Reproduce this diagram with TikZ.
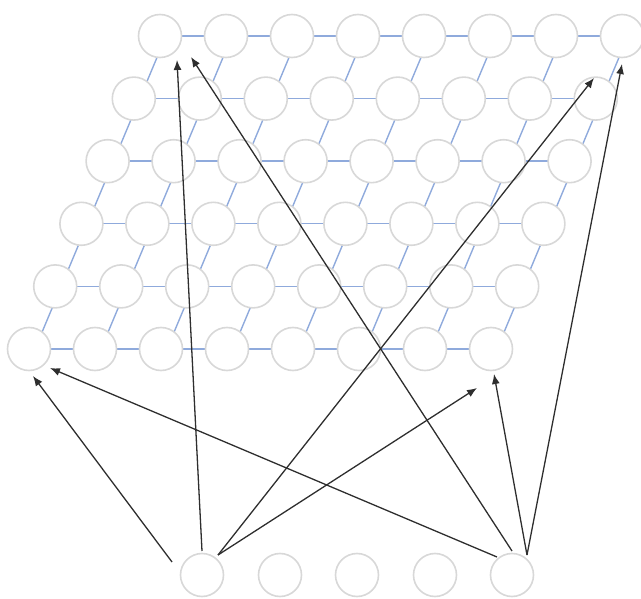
\documentclass[tikz,border=0pt]{standalone}
\usetikzlibrary{arrows.meta,calc,backgrounds}
\definecolor{lat}{HTML}{8FAADC}
\definecolor{ring}{HTML}{D8D8D8}
\definecolor{arrcol}{HTML}{2E2E2E}
\begin{document}
\begin{tikzpicture}[x=1pt,y=-1pt,
  unit/.style={circle,draw=ring,line width=1.6pt,fill=white,minimum size=43pt,inner sep=0pt},
  link/.style={draw=lat,line width=1.4pt},
  arw/.style={draw=arrcol,line width=1.3pt,-{Latex[length=10pt,width=8pt]}}]
\useasboundingbox (0,0) rectangle (641,599);
% lattice units
\foreach \r in {1,...,6}{
  \foreach \c in {0,...,7}{
    \node[unit] (n-\r-\c) at ({29+26.2*(\r-1)+66*\c},{349-62.6*(\r-1)}) {};
  }
}
% lattice links
\begin{scope}[on background layer]
\foreach \r in {1,...,6}{
  \foreach \c [evaluate=\c as \d using int(\c+1)] in {0,...,6}{
    \draw[link] (n-\r-\c.center) -- (n-\r-\d.center);
  }
}
\foreach \r [evaluate=\r as \s using int(\r+1)] in {1,...,5}{
  \foreach \c in {0,...,7}{
    \draw[link] ([xshift=6pt]n-\r-\c.center) -- ([xshift=6pt]n-\s-\c.center);
  }
}
\end{scope}
% input units
\node[unit] (b1) at (202,575) {};
\node[unit] (b2) at (280,575) {};
\node[unit] (b3) at (357,575) {};
\node[unit] (b4) at (435,575) {};
\node[unit] (b5) at (512,575) {};
% connections from input 1
\draw[arw] ($(b1)+(0,-24)$) -- ($(n-6-0)+(17,24)$);
\draw[arw] ($(b1)+(-30,-13)$) -- ($(n-1-0)+(4,27)$);
\draw[arw] ($(b1)+(16,-20)$) -- ($(n-1-7)+(-14,39)$);
\draw[arw] ($(b1)+(16,-20)$) -- ($(n-6-7)+(-28,42)$);
% connections from input 5
\draw[arw] ($(b5)+(-15,-18)$) -- ($(n-1-0)+(21,19)$);
\draw[arw] ($(b5)+(0,-24)$) -- ($(n-6-0)+(31,21)$);
\draw[arw] ($(b5)+(15,-20)$) -- ($(n-1-7)+(3,25)$);
\draw[arw] ($(b5)+(15,-20)$) -- ($(n-6-7)+(0,28)$);
\end{tikzpicture}
\end{document}
